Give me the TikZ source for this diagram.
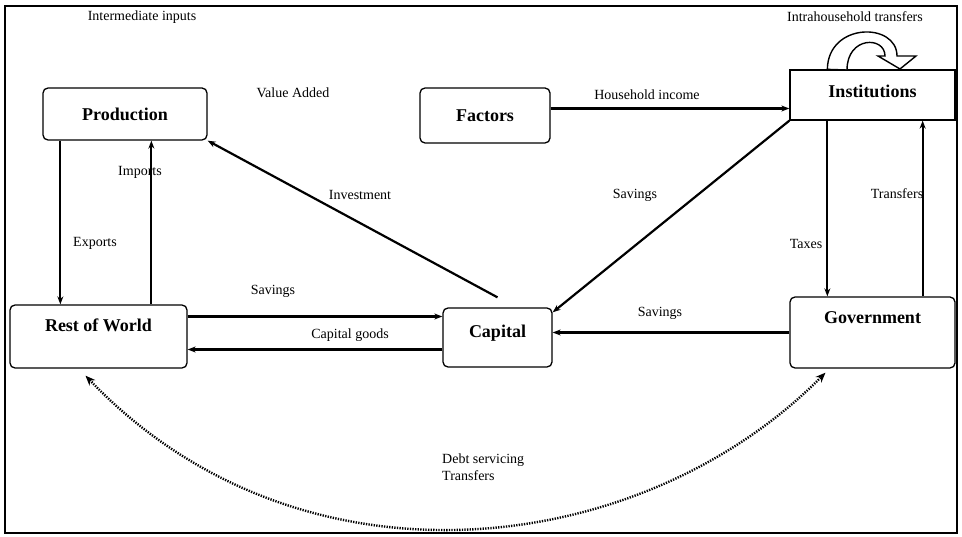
\documentclass[tikz,border=0pt]{standalone}
\usepackage{fontspec}
\setmainfont{Liberation Serif}
\usetikzlibrary{arrows.meta,calc}
\tikzset{
 sector/.style={draw,line width=1.3pt,rounded corners=5pt,font=\fontsize{18}{21}\selectfont\bfseries,inner sep=0},
 flow/.style={line width=2.2pt,-{Stealth[length=8pt,width=6pt]}},
 debt/.style={line width=2.4pt,dash pattern=on 1.3pt off 1.3pt,{Stealth[length=10pt,width=8pt]}-{Stealth[length=10pt,width=8pt]}},
 lbl/.style={font=\fontsize{14}{17}\selectfont,inner sep=1pt}
}
\begin{document}
\begin{tikzpicture}[x=1pt,y=-1pt]
\path[use as bounding box] (0,0) rectangle (962,537);
\draw[line width=1.3pt] (5,6) rectangle (957,533);
% sectors
\node[sector,minimum width=164pt,minimum height=52pt] (prod) at (125,114) {Production};
\node[sector,minimum width=130pt,minimum height=55pt] (fact) at (485,115.5) {Factors};
\node[sector,rounded corners=0pt,minimum width=165pt,minimum height=50pt,text depth=8pt] (inst) at (872.5,95) {Institutions};
\node[sector,minimum width=177pt,minimum height=63pt,text depth=22pt] (row) at (98.5,336.5) {Rest of World};
\node[sector,minimum width=109pt,minimum height=59pt,text depth=12pt] (cap) at (497.5,337.5) {Capital};
\node[sector,minimum width=165pt,minimum height=71pt,text depth=30pt] (gov) at (872.5,332.5) {Government};
% flows
\draw[flow] ([xshift=18pt]prod.south west) -- ([xshift=18pt]prod.south west |- row.north);
\draw[flow] ([xshift=109pt]prod.south west |- row.north) -- ([xshift=109pt]prod.south west);
\draw[flow] ([yshift=10pt]cap.north) -- (prod.south east);
\draw[flow] (inst.south west) -- ([yshift=-5pt]cap.north east);
\draw[flow] ([yshift=7pt]fact.east) -- ([yshift=7pt]fact.east -| inst.west);
\draw[flow] ([xshift=38pt]inst.south west) -- ([xshift=38pt]inst.south west |- gov.north);
\draw[flow] ([xshift=-33pt]inst.south east |- gov.north) -- ([xshift=-33pt]inst.south east);
\draw[flow] (gov.west) -- (gov.west -| cap.east);
\draw[flow] ([yshift=20pt]row.east) -- ([yshift=20pt]row.east -| cap.west);
\draw[flow] ([yshift=-12pt]cap.west) -- ([yshift=-12pt]cap.west -| row.east);
\draw[debt] ([shift={(-13pt,-7pt)}]row.south) .. controls (300,600) and (640,560) .. ([shift={(-47pt,-4pt)}]gov.south);
% intrahousehold loop
\draw[line width=1.4pt,fill=white] ([xshift=38pt]inst.north west) .. controls (828,22) and (897,22) .. (897,56)
 -- (916,56) -- (900,69) -- (878,56) -- (885,56) .. controls (885,36) and (847,36) .. (847,70) -- cycle;
% labels
\node[lbl] (l1) at (142,17) {Intermediate inputs};
\node[lbl] (l2) at (293,93) {Value Added};
\node[lbl] (l3) at (647,95) {Household income};
\node[lbl] (l4) at (855,17) {Intrahousehold transfers};
\node[lbl] (l5) at (140,172) {Imports};
\node[lbl] (l6) at (95,243) {Exports};
\node[lbl] (l7) at (360,195) {Investment};
\node[lbl] (l8) at (635,195) {Savings};
\node[lbl] (l9) at (806,244) {Taxes};
\node[lbl] (l10) at (897,194) {Transfers};
\node[lbl] (l11) at (273,291) {Savings};
\node[lbl] (l12) at (350,335) {Capital goods};
\node[lbl] (l13) at (660,313) {Savings};
\node[lbl,align=left,anchor=west] (l14) at (441,467) {Debt servicing\\Transfers};
\end{tikzpicture}
\end{document}
